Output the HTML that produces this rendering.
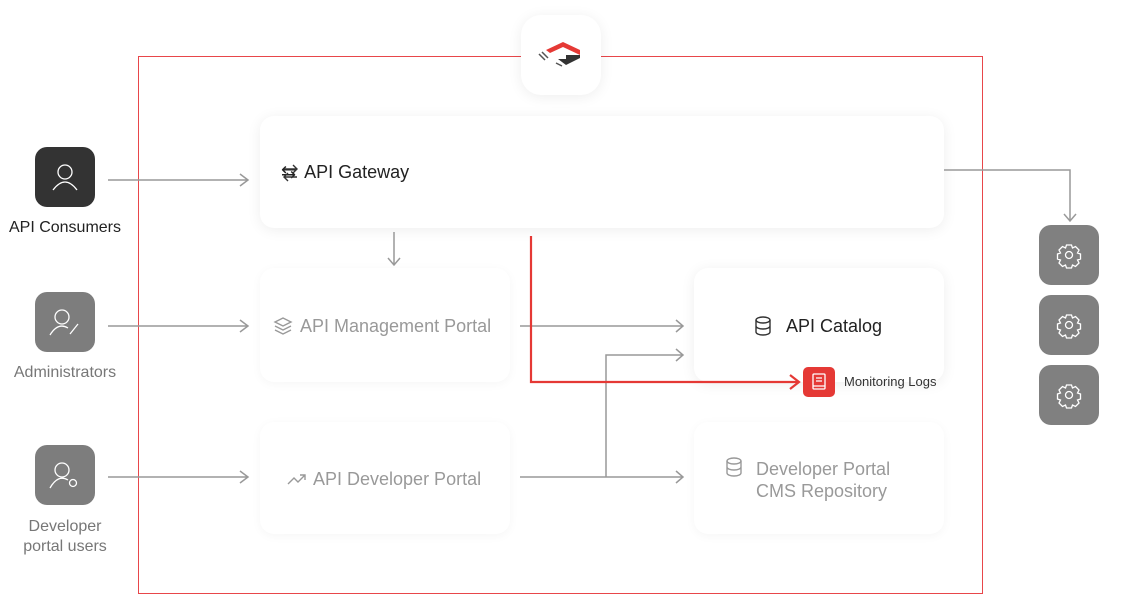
<!DOCTYPE html><html><head><style>
body{margin:0;width:1122px;height:595px;background:#fff;position:relative;overflow:hidden;font-family:"Liberation Sans",sans-serif}
.c{position:absolute;background:#fff;border-radius:14px;box-shadow:0 2px 14px rgba(0,0,0,0.07)}
.t{position:absolute;font-size:18px;color:#222;white-space:nowrap}
.ic{position:absolute;width:60px;height:60px;border-radius:12px;background:#7d7d7d}
.l{position:absolute;font-size:16px;color:#777;text-align:center;width:140px;line-height:20px}
</style></head><body>
<div style="position:absolute;left:138px;top:56px;width:845px;height:538px;border:1px solid #e8464a;box-sizing:border-box"></div>
<div class="c" style="left:521px;top:15px;width:80px;height:80px;border-radius:20px"></div>
<svg style="position:absolute;left:536px;top:38px" width="52" height="34"><path d="M10 12 L27 4 L44 12 L44 17 L27 9 L14 15 Z" fill="#e53935"/><path d="M14 17 L30 17 L30 21 L22 21 L30 27 L44 20 L44 17 L36 17" fill="#333"/><path d="M3 16 L9 22 M6 14 L12 20 M20 25 L26 28" stroke="#555" stroke-width="1.5"/></svg>
<div class="c" style="left:260px;top:116px;width:684px;height:112px"></div>
<div class="c" style="left:260px;top:268px;width:250px;height:114px;box-shadow:0 2px 10px rgba(0,0,0,0.04)"></div>
<div class="c" style="left:694px;top:268px;width:250px;height:114px"></div>
<div class="c" style="left:260px;top:422px;width:250px;height:112px;box-shadow:0 2px 10px rgba(0,0,0,0.04)"></div>
<div class="c" style="left:694px;top:422px;width:250px;height:112px;box-shadow:0 2px 10px rgba(0,0,0,0.04)"></div>
<div class="t" style="left:281px;top:162px">⇆ <span style="margin-left:3px">API Gateway</span></div>
<div class="t" style="left:300px;top:316px;color:#999">API Management Portal</div>
<div class="t" style="left:786px;top:316px">API Catalog</div>
<div class="t" style="left:313px;top:469px;color:#999">API Developer Portal</div>
<div class="t" style="left:756px;top:458px;color:#999;line-height:22px">Developer Portal<br>CMS Repository</div>
<div style="position:absolute;left:803px;top:367px;width:32px;height:30px;border-radius:5px;background:#e53935"></div>
<div style="position:absolute;left:844px;top:374px;font-size:13px;color:#333">Monitoring Logs</div>
<div class="ic" style="left:35px;top:147px;background:#333"></div>
<div class="ic" style="left:35px;top:292px"></div>
<div class="ic" style="left:35px;top:445px"></div>
<div class="ic" style="left:1039px;top:225px;background:#808080"></div>
<div class="ic" style="left:1039px;top:295px;background:#808080"></div>
<div class="ic" style="left:1039px;top:365px;background:#808080"></div>
<svg style="position:absolute;left:0;top:0" width="1122" height="595" fill="none">
<defs><g id="gear"><circle r="3.5"/><path d="M-2.5 -10h5l1 3 3-1.5 3.5 3.5-1.5 3 3 1v5l-3 1 1.5 3-3.5 3.5-3-1.5-1 3h-5l-1-3-3 1.5-3.5-3.5 1.5-3-3-1v-5l3-1-1.5-3 3.5-3.5 3 1.5z"/></g>
<g id="db"><ellipse cx="0" cy="-6" rx="7" ry="3"/><path d="M-7 -6V6A7 3 0 0 0 7 6V-6M-7 0A7 3 0 0 0 7 0"/></g></defs>
<g stroke="#fff" stroke-width="1.3"><circle cx="65" cy="172" r="7"/><path d="M53 190 Q65 174 77 190"/><circle cx="62" cy="317" r="7"/><path d="M50 335 Q58 322 68 328 M70 334 L78 324"/><circle cx="62" cy="470" r="7"/><path d="M50 488 Q58 474 68 480"/><circle cx="73" cy="483" r="3.5"/>
<use href="#gear" x="1069" y="255"/><use href="#gear" x="1069" y="325"/><use href="#gear" x="1069" y="395"/>
<rect x="813" y="374" width="12" height="15" rx="1"/><path d="M816 378h6M816 381h6M813 386h12"/></g>
<g stroke="#333" stroke-width="1.4"><use href="#db" x="763" y="326"/></g>
<g stroke="#999" stroke-width="1.4"><use href="#db" x="734" y="467"/><path d="M275 322l8-4 8 4-8 4zM275 326l8 4 8-4M275 330l8 4 8-4"/><path d="M288 484l6-6 4 4 7-7M300 475h5v5"/></g>
<path d="M284 169h13M293 165l4 4-4 4M297 177h-13M288 173l-4 4 4 4" stroke="#333" stroke-width="1.4"/>
<g stroke="#999" stroke-width="1.5"><path d="M108 180H248M240 174L248 180 240 186M108 326H248M240 320L248 326 240 332M108 477H248M240 471L248 477 240 483M394 232V264M388 258L394 265 400 258M520 326H682M676 320L683 326 676 332M520 477H682M676 471L683 477 676 483M606 477V355H682M676 349L683 355 676 361M944 170H1070V220M1064 214L1070 221 1076 214"/></g>
<path d="M531 236V382H798M790 375L799 382 790 389" stroke="#e53935" stroke-width="2.2"/>
</svg>
<div class="l" style="left:-5px;top:218px;color:#222">API Consumers</div>
<div class="l" style="left:-5px;top:363px">Administrators</div>
<div class="l" style="left:-5px;top:517px">Developer<br>portal users</div>
</body></html>
